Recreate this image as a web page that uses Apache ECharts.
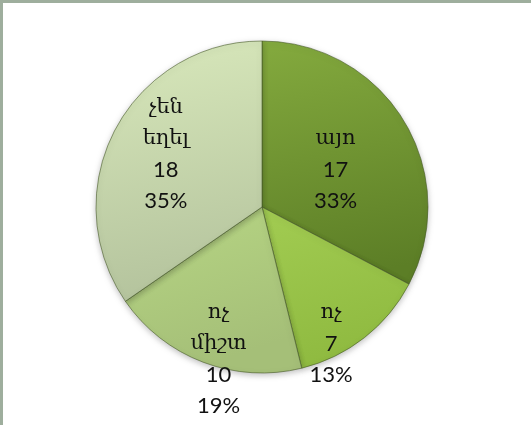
<!DOCTYPE html>
<html>
<head>
<meta charset="utf-8">
<script src="https://cdn.jsdelivr.net/npm/echarts@6/dist/echarts.min.js"></script>
<style>
  html, body { margin: 0; padding: 0; background: #fff; }
  #frame {
    position: absolute; left: 0; top: 0; width: 531px; height: 425px;
    box-sizing: border-box;
    border-top: 3px solid #9eae9d;
    border-left: 3px solid #9eae9d;
  }
  #chart { position: absolute; left: 0; top: 0; width: 531px; height: 425px; }
</style>
</head>
<body>
<div id="frame"></div>
<div id="chart"></div>
<script>
// 类别与数值
const names = ['այո', 'ոչ', 'ոչ միշտ', 'չեն եղել']
const values = [17, 7, 10, 18]
// 每块颜色（上 → 下）
const topColors = ['#84aa3e', '#a2cc52', '#b7d684', '#d8e8bb']
const bottomColors = ['#5c7e26', '#8fba40', '#a5bf78', '#b4c39d']
// 标签偏移
const labelShift = [[0, 7], [16, 69], [-13, 72], [-20, -13]]

const data = names.map((name, i) => ({
  name,
  value: values[i],
  itemStyle: {
    color: {
      type: 'linear', x: 0, y: 0, x2: 0.3, y2: 1,
      colorStops: [
        { offset: 0, color: topColors[i] },
        { offset: 1, color: bottomColors[i] }
      ]
    }
  }
}))

const chart = echarts.init(document.getElementById('chart'), null, { renderer: 'canvas' })
chart.setOption({
  animation: false,
  series: [{
    type: 'pie',
    center: [262, 207],
    radius: 166,
    startAngle: 90,
    clockwise: true,
    percentPrecision: 0,
    data,
    itemStyle: {
      borderColor: 'rgba(70,90,40,0.6)',
      borderWidth: 1,
      shadowBlur: 6,
      shadowColor: 'rgba(0,0,0,0.25)',
      shadowOffsetY: 2
    },
    label: {
      show: true,
      position: 'inside',
      formatter: p => p.name.split(' ').map(s => '{n|' + s + '}').join('\n') +
        '\n{v|' + p.value + '}\n{v|' + p.percent + '%}',
      color: '#111',
      rich: {
        n: { fontFamily: 'DejaVu Serif', fontSize: 21, lineHeight: 31, color: '#111' },
        v: { fontFamily: 'Lato', fontSize: 22, lineHeight: 31, color: '#111' }
      }
    },
    labelLine: { show: false },
    labelLayout: p => ({ dx: labelShift[p.dataIndex][0], dy: labelShift[p.dataIndex][1] }),
    emphasis: { disabled: true }
  }]
})
window.addEventListener('resize', chart.resize)
</script>
</body>
</html>
